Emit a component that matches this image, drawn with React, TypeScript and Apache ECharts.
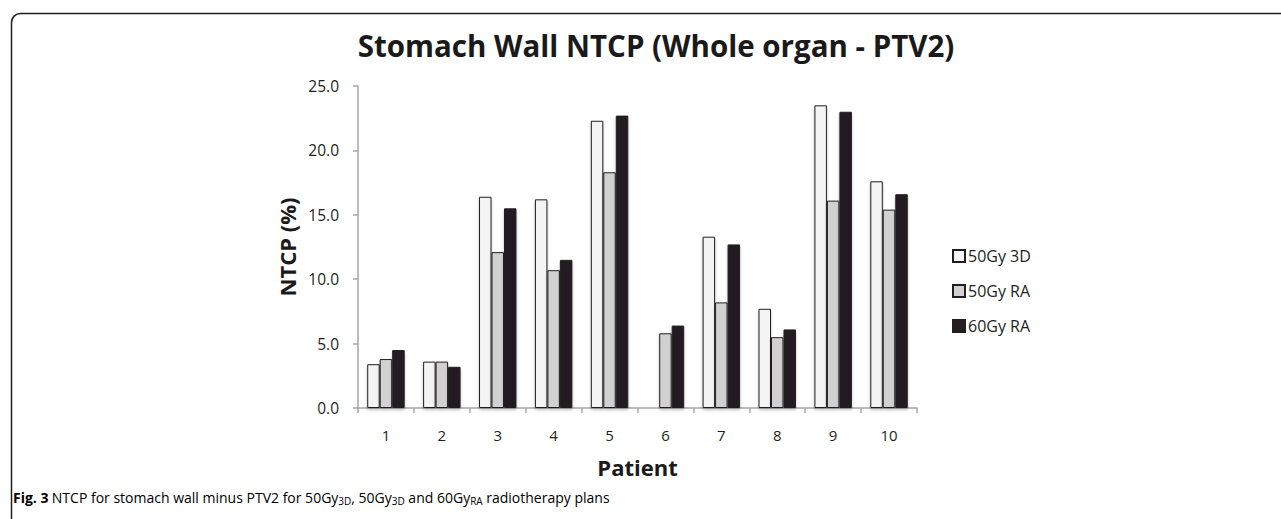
import React, { useEffect, useRef } from "react";
import * as echarts from "echarts";

const patients = ["1", "2", "3", "4", "5", "6", "7", "8", "9", "10"];
const gy50_3d = [3.4, 3.6, 16.4, 16.2, 22.3, 0, 13.3, 7.7, 23.5, 17.6];
const gy50_ra = [3.8, 3.6, 12.1, 10.7, 18.3, 5.8, 8.2, 5.5, 16.1, 15.4];
const gy60_ra = [4.5, 3.2, 15.5, 11.5, 22.7, 6.4, 12.7, 6.1, 23.0, 16.6];
const seriesNames = ["50Gy 3D", "50Gy RA", "60Gy RA"];
const seriesColors = ["#f4f4f4", "#d1d1d1", "#231f20"];

const FONT = "'Open Sans', 'Noto Sans', sans-serif";

export default function App() {
  const ref = useRef<HTMLDivElement>(null);
  useEffect(() => {
    if (!ref.current) return;
    const chart = echarts.init(ref.current, undefined, { renderer: "svg" });
    const values = [gy50_3d, gy50_ra, gy60_ra];
    chart.setOption({
      animation: false,
      backgroundColor: "#ffffff",
      textStyle: { fontFamily: FONT },
      title: {
        text: "Stomach Wall NTCP (Whole organ - PTV2)",
        left: 651,
        textAlign: "center",
        top: 25,
        textStyle: { fontFamily: FONT, fontSize: 29.5, fontWeight: "bold", color: "#1a1a1a" },
      },
      legend: {
        orient: "vertical",
        left: 947,
        top: 243,
        itemWidth: 12,
        itemHeight: 12,
        itemGap: 19,
        icon: "rect",
        data: seriesNames,
        textStyle: { fontFamily: FONT, fontSize: 16, color: "#231f20", lineHeight: 16, padding: [0, 0, 0, -2] },
      },
      grid: { left: 358, right: 364, top: 86, bottom: 111 },
      xAxis: {
        type: "category",
        data: patients,
        name: "Patient",
        nameLocation: "middle",
        nameGap: 48,
        nameTextStyle: { fontFamily: FONT, fontSize: 22, fontWeight: "bold", color: "#1a1a1a" },
        axisLine: { lineStyle: { color: "#a6a6a6", width: 1.5 } },
        axisTick: { show: true, length: 5, lineStyle: { color: "#a6a6a6", width: 1.5 } },
        axisLabel: { margin: 19, fontFamily: FONT, fontSize: 15, color: "#231f20" },
      },
      yAxis: {
        type: "value",
        min: 0,
        max: 25,
        interval: 5,
        name: "NTCP (%)",
        nameLocation: "middle",
        nameGap: 60,
        nameTextStyle: { fontFamily: FONT, fontSize: 22, fontWeight: "bold", color: "#1a1a1a" },
        axisLine: { show: true, lineStyle: { color: "#a6a6a6", width: 1.5 } },
        axisTick: { show: true, length: 5, lineStyle: { color: "#a6a6a6", width: 1.5 } },
        splitLine: { show: false },
        axisLabel: {
          margin: 19,
          fontFamily: FONT,
          fontSize: 15.5,
          color: "#231f20",
          formatter: (v: number) => v.toFixed(1),
        },
      },
      series: seriesNames.map((name, i) => ({
        name,
        type: "bar",
        data: values[i],
        barGap: "0%",
        barCategoryGap: "33%",
        itemStyle: {
          color: seriesColors[i],
          borderColor: "#231f20",
          borderWidth: 1,
          shadowBlur: 3,
          shadowColor: "rgba(0,0,0,0.25)",
          shadowOffsetY: 2,
        },
      })),
      graphic: [
        {
          type: "rect",
          left: 9,
          top: 11,
          shape: { width: 1400, height: 600, r: 9 },
          style: { fill: "none", stroke: "#231f20", lineWidth: 1.5 },
          silent: true,
        },
        {
          type: "text",
          left: 13,
          top: 490,
          style: {
            text: "{b|Fig. 3} {n|NTCP for stomach wall minus PTV2 for 50Gy}{s|3D}{n|, 50Gy}{s|3D}{n| and 60Gy}{s|RA}{n| radiotherapy plans}",
            rich: {
              b: { fontFamily: FONT, fontSize: 14, fontWeight: "bold", color: "#1a1a1a", lineHeight: 18, verticalAlign: "middle" },
              n: { fontFamily: FONT, fontSize: 14, color: "#1a1a1a", lineHeight: 18, verticalAlign: "middle" },
              s: { fontFamily: FONT, fontSize: 10, color: "#1a1a1a", lineHeight: 10, verticalAlign: "bottom", padding: [6, 0, 0, 0] },
            },
          },
        },
      ],
    });
    return () => chart.dispose();
  }, []);
  return (
    <div
      ref={ref}
      style={{ position: "fixed", left: 0, top: 0, width: 1281, height: 519 }}
    />
  );
}
